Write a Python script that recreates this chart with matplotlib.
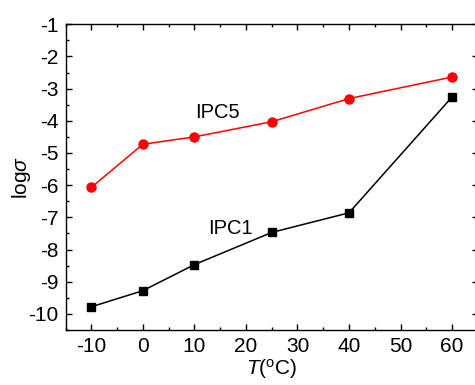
import numpy as np
import matplotlib
matplotlib.use('Agg')
import matplotlib.pyplot as plt
from matplotlib.ticker import MultipleLocator

plt.rcParams['font.family'] = ['Liberation Sans', 'DejaVu Sans']
plt.rcParams['mathtext.fontset'] = 'custom'
plt.rcParams['mathtext.rm'] = 'Liberation Sans'
plt.rcParams['mathtext.it'] = 'Liberation Sans:italic'
plt.rcParams['axes.unicode_minus'] = False

temps = [-10, 0, 10, 25, 40, 60]
ipc5 = [-6.07, -4.73, -4.50, -4.03, -3.31, -2.64]
ipc1 = [-9.78, -9.28, -8.47, -7.47, -6.86, -3.26]

fig = plt.figure(figsize=(4.75, 3.85), dpi=100)
ax = fig.add_axes([0.138, 0.143, 0.868, 0.794])

ax.plot(temps, ipc5, color='red', marker='o', markersize=6.5, linewidth=1.1)
ax.plot(temps, ipc1, color='black', marker='s', markersize=5.5, linewidth=1.1)

ax.text(14.4, -3.75, 'IPC5', fontsize=14.5, ha='center', va='center')
ax.text(16.9, -7.36, 'IPC1', fontsize=14.5, ha='center', va='center')

ax.set_xlim(-15, 65)
ax.set_ylim(-10.5, -1)
ax.xaxis.set_major_locator(MultipleLocator(10))
ax.xaxis.set_minor_locator(MultipleLocator(5))
ax.yaxis.set_major_locator(MultipleLocator(1))
ax.yaxis.set_minor_locator(MultipleLocator(0.5))
ax.tick_params(which='both', direction='in', top=True, right=True, labelsize=15, width=1)
ax.tick_params(which='major', length=4.3, pad=5)
ax.tick_params(which='minor', length=2.2)
for s in ax.spines.values():
    s.set_linewidth(1)

ax.set_xlabel(r'$T$($^{\rm o}$C)', fontsize=15, labelpad=1)
ax.set_ylabel(r'log$\sigma$', fontsize=15, labelpad=-3)

fig.savefig('out.png', dpi=100)
